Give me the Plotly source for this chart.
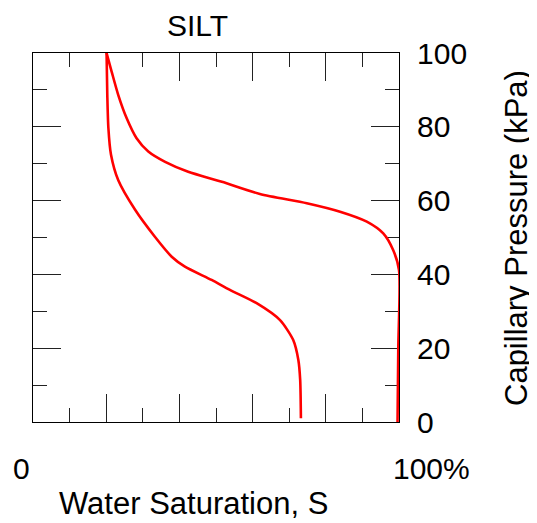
import plotly.graph_objects as go

# Drying curve (upper)
drying_s = [20.1, 21.5, 23.3, 25.6, 28.3, 31.5, 36.1, 42.4, 51.6, 62.0, 74.8, 83.9, 91.2, 95.7, 98.4, 100.0, 99.8, 99.6]
drying_p = [100.0, 94.9, 88.6, 82.3, 76.9, 73.3, 70.5, 67.8, 65.1, 61.8, 59.3, 57.0, 54.3, 51.1, 46.6, 41.2, 20.0, 0.0]

# Wetting curve (lower)
wetting_s = [20.1, 20.3, 20.6, 21.3, 23.3, 27.9, 33.3, 37.9, 41.5, 48.8, 53.8, 61.1, 67.5, 71.1, 72.5, 73.0, 73.2]
wetting_p = [100.0, 88.6, 79.6, 72.5, 65.5, 57.5, 50.2, 44.8, 42.1, 38.5, 35.8, 32.2, 27.6, 22.2, 16.8, 11.4, 1.0]

y_ticks = [0, 20, 40, 60, 80, 100]
y_tick_labels = ["0", "20", "40", "60", "80", "100"]

FONT = "Liberation Sans, Arial, sans-serif"
RED = "#ff0000"
OFF = 8  # browser body margin

fig = go.Figure()
fig.add_trace(go.Scatter(x=drying_s, y=drying_p, mode="lines",
                         line=dict(color=RED, width=2.6, shape="spline", smoothing=0.7),
                         showlegend=False, hoverinfo="skip"))
fig.add_trace(go.Scatter(x=wetting_s, y=wetting_p, mode="lines",
                         line=dict(color=RED, width=2.6, shape="spline", smoothing=0.7),
                         showlegend=False, hoverinfo="skip"))

PL, PR, PT, PB = 33, 399, 53, 422
PW, PH = PR - PL, PB - PT

tick_style = dict(ticks="inside", tickwidth=1.2, tickcolor="#222")
fig.update_layout(
    width=537 - OFF, height=523 - OFF,
    margin=dict(l=PL - OFF, r=537 - PR, t=PT - OFF, b=523 - PB, pad=0),
    paper_bgcolor="white", plot_bgcolor="white",
    font=dict(family=FONT, size=30, color="black"),
    xaxis=dict(range=[0, 100], showgrid=False, zeroline=False, layer="below traces",
               showline=True, linecolor="black", linewidth=1.2, mirror="ticks",
               ticklen=28, **tick_style,
               tickmode="linear", tick0=0, dtick=20, showticklabels=False,
               minor=dict(ticklen=14, dtick=10, tick0=0, showgrid=False, **tick_style)),
    yaxis=dict(range=[0, 100], showgrid=False, zeroline=False, side="right", layer="below traces",
               showline=True, linecolor="black", linewidth=1.2, mirror="ticks",
               ticklen=28, **tick_style,
               tickmode="array", tickvals=y_ticks, ticktext=y_tick_labels,
               ticklabelstandoff=11,
               tickfont=dict(family=FONT, size=30, color="black"),
               minor=dict(ticklen=14, dtick=10, tick0=0, showgrid=False, **tick_style)),
    annotations=[
        dict(text="SILT", xref="paper", yref="paper", x=(197 - PL) / PW, y=1 + (PT - 25) / PH,
             xanchor="center", yanchor="middle", showarrow=False, font=dict(size=30)),
        dict(text="0", xref="paper", yref="paper", x=(21.7 - PL) / PW, y=-(469 - PB) / PH,
             xanchor="center", yanchor="middle", showarrow=False, font=dict(size=30)),
        dict(text="100%", xref="paper", yref="paper", x=(431 - PL) / PW, y=-(469 - PB) / PH,
             xanchor="center", yanchor="middle", showarrow=False, font=dict(size=30)),
        dict(text="Water Saturation, S", xref="paper", yref="paper", x=(193.5 - PL) / PW, y=-(503 - PB) / PH,
             xanchor="center", yanchor="middle", showarrow=False, font=dict(size=31)),
        dict(text="Capillary Pressure (kPa)", xref="paper", yref="paper", x=(517 - PL) / PW, y=(PB - 238) / PH,
             xanchor="center", yanchor="middle", textangle=-90, showarrow=False, font=dict(size=31)),
    ],
)

fig.write_html("out.html")
